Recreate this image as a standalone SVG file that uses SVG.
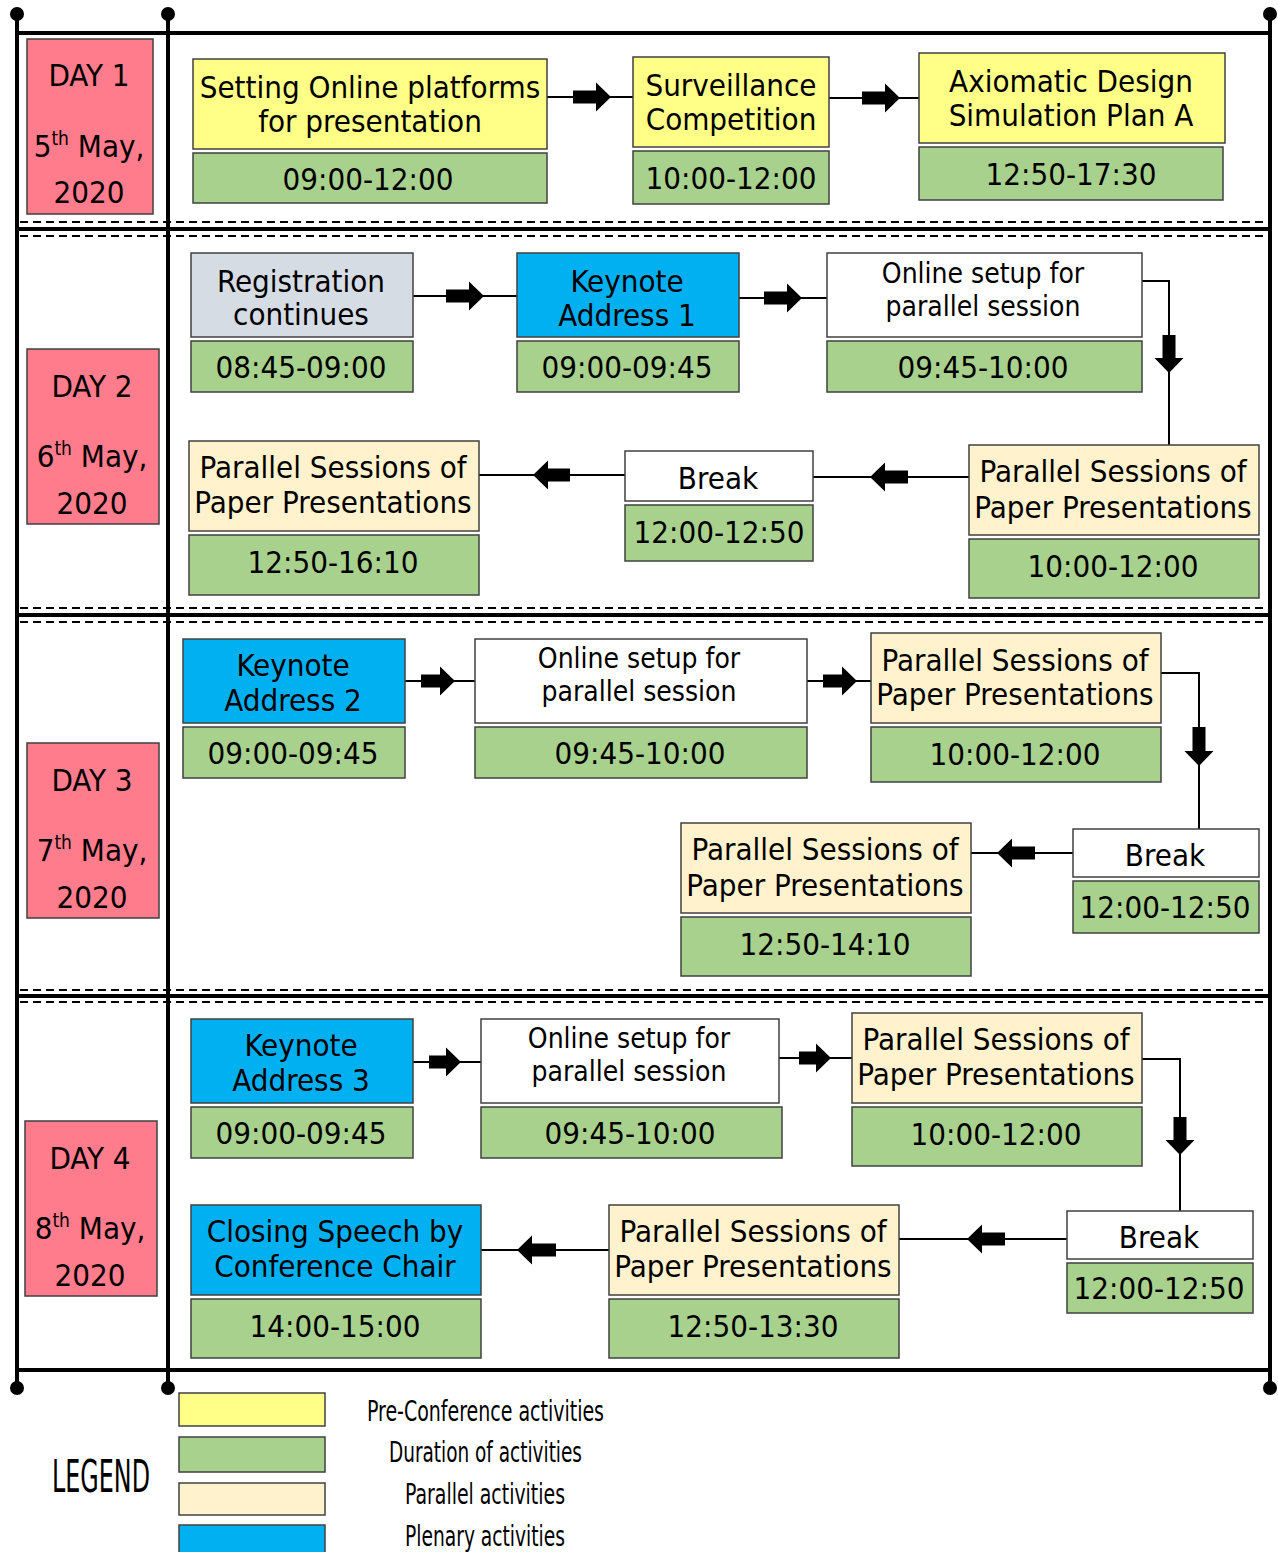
<svg xmlns="http://www.w3.org/2000/svg" width="1278" height="1552" viewBox="0 0 1278 1552">
<style>
.bg{fill:#ffffff}
.frame{stroke:#000;stroke-width:4;fill:none}
.dash{stroke:#000;stroke-width:2;stroke-dasharray:8 5;fill:none}
.dot{fill:#000}
.box{stroke:#404040;stroke-width:1.5}
.day{fill:#FF7C8C}
.pre{fill:#FFFF88}
.dur{fill:#A9D18E}
.par{fill:#FFF2CC}
.ple{fill:#00B0F0}
.reg{fill:#D6DCE4}
.wht{fill:#FFFFFF}
text{font-family:"DejaVu Sans Condensed","DejaVu Sans",sans-serif;font-stretch:condensed;font-size:31px;fill:#000;text-anchor:middle}
.tight{font-size:28px}
.leg{font-family:"Liberation Sans Narrow","DejaVu Sans Condensed",sans-serif;font-size:28px}
.legbig{font-size:44px}
.conn{stroke:#000;stroke-width:2;fill:none}
.head{fill:#000}
</style>
<rect class="bg" x="0" y="0" width="1278" height="1552"/>

<g id="frame">
<line class="frame" x1="17" y1="14" x2="17" y2="1388"/>
<line class="frame" x1="168" y1="14" x2="168" y2="1388"/>
<line class="frame" x1="1270" y1="14" x2="1270" y2="1388"/>
<line class="frame" x1="17" y1="33" x2="1270" y2="33"/>
<line class="frame" x1="17" y1="1370" x2="1270" y2="1370"/>
<line class="frame" x1="17" y1="229" x2="1270" y2="229"/>
<line class="frame" x1="17" y1="615" x2="1270" y2="615"/>
<line class="frame" x1="17" y1="996" x2="1270" y2="996"/>
<line class="dash" x1="20" y1="222" x2="1267" y2="222"/>
<line class="dash" x1="20" y1="236" x2="1267" y2="236"/>
<line class="dash" x1="20" y1="608" x2="1267" y2="608"/>
<line class="dash" x1="20" y1="622" x2="1267" y2="622"/>
<line class="dash" x1="20" y1="990" x2="1267" y2="990"/>
<line class="dash" x1="20" y1="1002" x2="1267" y2="1002"/>
<circle class="dot" cx="17" cy="14" r="7"/>
<circle class="dot" cx="168" cy="14" r="7"/>
<circle class="dot" cx="1270" cy="14" r="7"/>
<circle class="dot" cx="17" cy="1388" r="7"/>
<circle class="dot" cx="168" cy="1388" r="7"/>
<circle class="dot" cx="1270" cy="1388" r="7"/>
</g>

<g id="connectors">
<line class="conn" x1="547" y1="97" x2="633" y2="97"/>
<path class="head" d="M573,90.5 H596 V82.5 L611,97 L596,111.5 V103.5 H573 Z"/>
<line class="conn" x1="829" y1="98" x2="919" y2="98"/>
<path class="head" d="M862,91.5 H885 V83.5 L900,98 L885,112.5 V104.5 H862 Z"/>
<line class="conn" x1="413" y1="296" x2="517" y2="296"/>
<path class="head" d="M446,289.5 H469 V281.5 L484,296 L469,310.5 V302.5 H446 Z"/>
<line class="conn" x1="739" y1="298" x2="827" y2="298"/>
<path class="head" d="M764,291.5 H787 V283.5 L802,298 L787,312.5 V304.5 H764 Z"/>
<polyline class="conn" points="1142,281 1169,281 1169,445"/>
<path class="head" d="M1162.5,335 V358 H1154.5 L1169,373 L1183.5,358 H1175.5 V335 Z"/>
<line class="conn" x1="969" y1="477" x2="813" y2="477"/>
<path class="head" d="M908,470.5 H885 V462.5 L870,477 L885,491.5 V483.5 H908 Z"/>
<line class="conn" x1="625" y1="475" x2="479" y2="475"/>
<path class="head" d="M570,468.5 H548 V460.5 L533,475 L548,489.5 V481.5 H570 Z"/>
<line class="conn" x1="405" y1="681" x2="475" y2="681"/>
<path class="head" d="M421,674.5 H440 V666.5 L455,681 L440,695.5 V687.5 H421 Z"/>
<line class="conn" x1="807" y1="681" x2="871" y2="681"/>
<path class="head" d="M823,674.5 H842 V666.5 L857,681 L842,695.5 V687.5 H823 Z"/>
<polyline class="conn" points="1161,673 1199,673 1199,829"/>
<path class="head" d="M1192.5,727 V751 H1184.5 L1199,766 L1213.5,751 H1205.5 V727 Z"/>
<line class="conn" x1="1073" y1="853" x2="971" y2="853"/>
<path class="head" d="M1035,846.5 H1012 V838.5 L997,853 L1012,867.5 V859.5 H1035 Z"/>
<line class="conn" x1="413" y1="1062" x2="481" y2="1062"/>
<path class="head" d="M429,1055.5 H446 V1047.5 L461,1062 L446,1076.5 V1068.5 H429 Z"/>
<line class="conn" x1="779" y1="1058" x2="852" y2="1058"/>
<path class="head" d="M799,1051.5 H816 V1043.5 L831,1058 L816,1072.5 V1064.5 H799 Z"/>
<polyline class="conn" points="1142,1059 1180,1059 1180,1211"/>
<path class="head" d="M1173.5,1117 V1140 H1165.5 L1180,1155 L1194.5,1140 H1186.5 V1117 Z"/>
<line class="conn" x1="1067" y1="1239" x2="899" y2="1239"/>
<path class="head" d="M1005,1232.5 H982 V1224.5 L967,1239 L982,1253.5 V1245.5 H1005 Z"/>
<line class="conn" x1="609" y1="1250" x2="481" y2="1250"/>
<path class="head" d="M556,1243.5 H532 V1235.5 L517,1250 L532,1264.5 V1256.5 H556 Z"/>
</g>

<g id="day1">
<rect class="box day" x="27" y="39" width="126" height="175"/>
<text x="89" y="86">DAY 1</text>
<text x="89" y="157">5<tspan font-size="19" dy="-12">th</tspan><tspan dy="12"> May,</tspan></text>
<text x="89" y="203">2020</text>
</g>
<g id="day2">
<rect class="box day" x="27" y="349" width="132" height="175"/>
<text x="92" y="397">DAY 2</text>
<text x="92" y="467">6<tspan font-size="19" dy="-12">th</tspan><tspan dy="12"> May,</tspan></text>
<text x="92" y="514">2020</text>
</g>
<g id="day3">
<rect class="box day" x="27" y="743" width="132" height="175"/>
<text x="92" y="791">DAY 3</text>
<text x="92" y="861">7<tspan font-size="19" dy="-12">th</tspan><tspan dy="12"> May,</tspan></text>
<text x="92" y="908">2020</text>
</g>
<g id="day4">
<rect class="box day" x="25" y="1121" width="132" height="175"/>
<text x="90" y="1169">DAY 4</text>
<text x="90" y="1239">8<tspan font-size="19" dy="-12">th</tspan><tspan dy="12"> May,</tspan></text>
<text x="90" y="1286">2020</text>
</g>

<g id="d1-setting">
<rect class="box pre" x="193" y="59" width="354" height="90"/>
<text x="370" y="98">Setting Online platforms</text>
<text x="370" y="132">for presentation</text>
<rect class="box dur" x="193" y="153" width="354" height="50"/>
<text x="368" y="190">09:00-12:00</text>
</g>
<g id="d1-surveillance">
<rect class="box pre" x="633" y="57" width="196" height="90"/>
<text x="731" y="96">Surveillance</text>
<text x="731" y="130">Competition</text>
<rect class="box dur" x="633" y="151" width="196" height="53"/>
<text x="731" y="189">10:00-12:00</text>
</g>
<g id="d1-axiomatic">
<rect class="box pre" x="919" y="53" width="306" height="90"/>
<text x="1071" y="92">Axiomatic Design</text>
<text x="1071" y="126">Simulation Plan A</text>
<rect class="box dur" x="919" y="147" width="304" height="53"/>
<text x="1071" y="185">12:50-17:30</text>
</g>

<g id="d2-registration">
<rect class="box reg" x="191" y="253" width="222" height="84"/>
<text x="301" y="292">Registration</text>
<text x="301" y="325">continues</text>
<rect class="box dur" x="191" y="341" width="222" height="51"/>
<text x="301" y="378">08:45-09:00</text>
</g>
<g id="d2-keynote1">
<rect class="box ple" x="517" y="253" width="222" height="84"/>
<text x="627" y="292">Keynote</text>
<text x="627" y="326">Address 1</text>
<rect class="box dur" x="517" y="341" width="222" height="51"/>
<text x="627" y="378">09:00-09:45</text>
</g>
<g id="d2-online">
<rect class="box wht" x="827" y="253" width="315" height="84"/>
<text class="tight" x="983" y="283">Online setup for</text>
<text class="tight" x="983" y="316">parallel session</text>
<rect class="box dur" x="827" y="341" width="315" height="51"/>
<text x="983" y="378">09:45-10:00</text>
</g>
<g id="d2-parallel1">
<rect class="box par" x="969" y="445" width="290" height="90"/>
<text x="1113" y="482">Parallel Sessions of</text>
<text x="1113" y="518">Paper Presentations</text>
<rect class="box dur" x="969" y="539" width="290" height="59"/>
<text x="1113" y="577">10:00-12:00</text>
</g>
<g id="d2-break">
<rect class="box wht" x="625" y="451" width="188" height="50"/>
<text x="718" y="489">Break</text>
<rect class="box dur" x="625" y="505" width="188" height="56"/>
<text x="719" y="543">12:00-12:50</text>
</g>
<g id="d2-parallel2">
<rect class="box par" x="189" y="441" width="290" height="90"/>
<text x="333" y="478">Parallel Sessions of</text>
<text x="333" y="513">Paper Presentations</text>
<rect class="box dur" x="189" y="535" width="290" height="60"/>
<text x="333" y="573">12:50-16:10</text>
</g>

<g id="d3-keynote2">
<rect class="box ple" x="183" y="639" width="222" height="84"/>
<text x="293" y="676">Keynote</text>
<text x="293" y="711">Address 2</text>
<rect class="box dur" x="183" y="727" width="222" height="51"/>
<text x="293" y="764">09:00-09:45</text>
</g>
<g id="d3-online">
<rect class="box wht" x="475" y="639" width="332" height="84"/>
<text class="tight" x="639" y="668">Online setup for</text>
<text class="tight" x="639" y="701">parallel session</text>
<rect class="box dur" x="475" y="727" width="332" height="51"/>
<text x="640" y="764">09:45-10:00</text>
</g>
<g id="d3-parallel1">
<rect class="box par" x="871" y="633" width="290" height="90"/>
<text x="1015" y="671">Parallel Sessions of</text>
<text x="1015" y="705">Paper Presentations</text>
<rect class="box dur" x="871" y="727" width="290" height="55"/>
<text x="1015" y="765">10:00-12:00</text>
</g>
<g id="d3-break">
<rect class="box wht" x="1073" y="829" width="186" height="48"/>
<text x="1165" y="866">Break</text>
<rect class="box dur" x="1073" y="881" width="186" height="52"/>
<text x="1165" y="918">12:00-12:50</text>
</g>
<g id="d3-parallel2">
<rect class="box par" x="681" y="823" width="290" height="90"/>
<text x="825" y="860">Parallel Sessions of</text>
<text x="825" y="896">Paper Presentations</text>
<rect class="box dur" x="681" y="917" width="290" height="59"/>
<text x="825" y="955">12:50-14:10</text>
</g>

<g id="d4-keynote3">
<rect class="box ple" x="191" y="1019" width="222" height="84"/>
<text x="301" y="1056">Keynote</text>
<text x="301" y="1091">Address 3</text>
<rect class="box dur" x="191" y="1107" width="222" height="51"/>
<text x="301" y="1144">09:00-09:45</text>
</g>
<g id="d4-online">
<rect class="box wht" x="481" y="1019" width="298" height="84"/>
<text class="tight" x="629" y="1048">Online setup for</text>
<text class="tight" x="629" y="1081">parallel session</text>
<rect class="box dur" x="481" y="1107" width="301" height="51"/>
<text x="630" y="1144">09:45-10:00</text>
</g>
<g id="d4-parallel1">
<rect class="box par" x="852" y="1013" width="290" height="90"/>
<text x="996" y="1050">Parallel Sessions of</text>
<text x="996" y="1085">Paper Presentations</text>
<rect class="box dur" x="852" y="1107" width="290" height="59"/>
<text x="996" y="1145">10:00-12:00</text>
</g>
<g id="d4-break">
<rect class="box wht" x="1067" y="1211" width="186" height="48"/>
<text x="1159" y="1248">Break</text>
<rect class="box dur" x="1067" y="1263" width="186" height="50"/>
<text x="1159" y="1299">12:00-12:50</text>
</g>
<g id="d4-parallel2">
<rect class="box par" x="609" y="1205" width="290" height="90"/>
<text x="753" y="1242">Parallel Sessions of</text>
<text x="753" y="1277">Paper Presentations</text>
<rect class="box dur" x="609" y="1299" width="290" height="59"/>
<text x="753" y="1337">12:50-13:30</text>
</g>
<g id="d4-closing">
<rect class="box ple" x="191" y="1205" width="290" height="90"/>
<text x="335" y="1242">Closing Speech by</text>
<text x="335" y="1277">Conference Chair</text>
<rect class="box dur" x="191" y="1299" width="290" height="59"/>
<text x="335" y="1337">14:00-15:00</text>
</g>

<g id="legend">
<text class="leg legbig" x="101" y="1492" textLength="98" lengthAdjust="spacingAndGlyphs">LEGEND</text>
<rect class="box pre" x="179" y="1393" width="146" height="33"/>
<rect class="box dur" x="179" y="1437" width="146" height="35"/>
<rect class="box par" x="179" y="1483" width="146" height="32"/>
<rect class="box ple" x="179" y="1525" width="146" height="30"/>
<text class="leg" x="485.5" y="1421" textLength="237" lengthAdjust="spacingAndGlyphs">Pre-Conference activities</text>
<text class="leg" x="485.5" y="1462" textLength="193" lengthAdjust="spacingAndGlyphs">Duration of activities</text>
<text class="leg" x="485" y="1504" textLength="160" lengthAdjust="spacingAndGlyphs">Parallel activities</text>
<text class="leg" x="485" y="1546" textLength="160" lengthAdjust="spacingAndGlyphs">Plenary activities</text>
</g>
</svg>
